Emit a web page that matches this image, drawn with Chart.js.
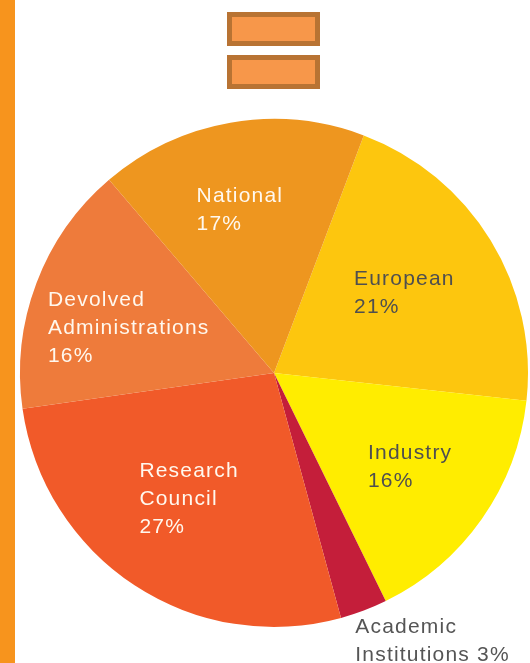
<!DOCTYPE html>
<html lang="en">
<head>
    <meta charset="UTF-8" />
    <title>Funding sources</title>
    <style>
        html, body { margin: 0; padding: 0; background: #fff; }
        body { width: 530px; height: 663px; position: relative; overflow: hidden; }
        .side-bar { position: absolute; left: 0; top: 0; width: 15px; height: 663px; background: #F7941D; }
        .box { position: absolute; left: 227px; width: 83px; height: 24px; background: #F7974A; border: 5px solid #B87333; }
        #chart-wrap { position: absolute; left: 0; top: 0; width: 530px; height: 663px; }
    </style>
</head>
<body>
    <div class="side-bar"></div>
    <div class="box" style="top: 12px;"></div>
    <div class="box" style="top: 55px;"></div>
    <div id="chart-wrap"><canvas id="pie"></canvas></div>

    <script src="https://cdn.jsdelivr.net/npm/chart.js"></script>
    <script>
        // data (clockwise, starting at the European slice)
        const categories = ["European", "Industry", "Academic Institutions", "Research Council", "Devolved Administrations", "National"];
        const shares = [21, 16, 3, 27, 16, 17];
        const labelLines = [
            ["European", "21%"],
            ["Industry", "16%"],
            ["Academic", "Institutions 3%"],
            ["Research", "Council", "27%"],
            ["Devolved", "Administrations", "16%"],
            ["National", "17%"]
        ];
        const sliceColors = ["#FDC60E", "#FFED00", "#C41E3A", "#F15A29", "#EE7B3B", "#EE961F"];
        const textColors = ["#4f4f4f", "#4f4f4f", "#555555", "#FFF8EE", "#FFF8EE", "#FFF8EE"];
        // text block anchor (left edge, first line middle) relative to centre, in radius units
        const labelOffsets = [[0.315, -0.37], [0.37, 0.315], [0.32, 1.0], [-0.53, 0.385], [-0.89, -0.285], [-0.305, -0.695]];

        const sliceLabels = {
            id: "sliceLabels",
            afterDraw(chart) {
                const ctx = chart.ctx;
                const arcs = chart.getDatasetMeta(0).data;
                ctx.save();
                ctx.font = "21px 'Liberation Sans', Arial, sans-serif";
                ctx.letterSpacing = "1.2px";
                ctx.textAlign = "left";
                ctx.textBaseline = "middle";
                arcs.forEach((arc, i) => {
                    const r = arc.outerRadius;
                    const x = arc.x + labelOffsets[i][0] * r;
                    const y = arc.y + labelOffsets[i][1] * r;
                    ctx.fillStyle = textColors[i];
                    labelLines[i].forEach((line, j) => {
                        ctx.fillText(line, x, y + j * 28);
                    });
                });
                ctx.restore();
            }
        };

        const ctx = document.getElementById("pie").getContext("2d");
        const chart = new Chart(ctx, {
            type: "pie",
            data: {
                labels: categories,
                datasets: [{
                    data: shares,
                    backgroundColor: sliceColors,
                    borderWidth: 0
                }]
            },
            options: {
                responsive: true,
                maintainAspectRatio: false,
                animation: false,
                rotation: 20.7,
                layout: { padding: { left: 20, right: 2, top: 119, bottom: 36 } },
                plugins: {
                    legend: { display: false },
                    tooltip: { enabled: false }
                }
            },
            plugins: [sliceLabels]
        });
    </script>
</body>
</html>
